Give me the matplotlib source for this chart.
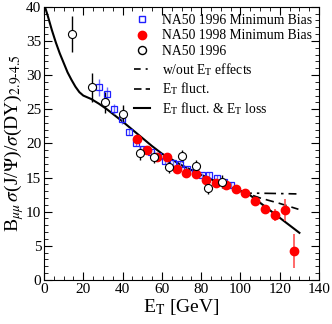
import numpy as np
import matplotlib
matplotlib.use('Agg')
import matplotlib.pyplot as plt
from matplotlib.ticker import MultipleLocator
from matplotlib.lines import Line2D

plt.rcParams['font.family'] = ['Liberation Serif', 'DejaVu Serif']
plt.rcParams['mathtext.fontset'] = 'stix'

# NA50 1996 minimum bias (open blue squares)
mb96_x = [28.2, 32.0, 35.8, 39.6, 43.2, 46.8, 50.6, 54.4, 58.2, 61.8,
          65.6, 69.4, 73.0, 76.8, 80.6, 84.2, 88.0, 91.8, 95.4]
mb96_y = [28.2, 27.2, 25.0, 23.6, 21.7, 20.0, 19.2, 18.8, 18.1, 17.4,
          17.1, 17.0, 16.3, 15.8, 15.3, 15.4, 14.9, 14.4, 13.9]
mb96_err = [1.3, 1.0, 0.7, 0.7, 0.5, 0.4, 0.4, 0.4, 0.4, 0.4,
            0.4, 0.4, 0.4, 0.4, 0.4, 0.4, 0.4, 0.4, 0.4]

# NA50 1998 minimum bias (filled red circles)
mb98_x = [47.5, 52.5, 57.5, 62.5, 67.5, 72.5, 77.5, 82.5, 87.5, 92.5,
          97.5, 102.5, 107.5, 112.5, 117.5, 122.5, 127.5]
mb98_y = [20.6, 19.0, 18.0, 18.0, 16.3, 15.6, 15.5, 14.6, 14.2, 13.9,
          13.3, 12.7, 11.6, 10.4, 9.5, 10.3, 4.3]
mb98_err = [0.4, 0.4, 0.4, 0.4, 0.4, 0.4, 0.4, 0.4, 0.4, 0.4,
            0.4, 0.4, 0.5, 0.6, 0.9, 1.6, 2.5]

# NA50 1996 (open black circles)
na96_x = [14.3, 24.3, 31.2, 40.2, 49.0, 56.2, 63.5, 70.1, 77.3, 83.3, 90.5]
na96_y = [36.0, 28.2, 26.0, 24.3, 18.6, 18.0, 16.6, 18.1, 16.7, 13.5, 14.4]
na96_err = [2.6, 2.1, 1.5, 1.3, 1.0, 0.9, 0.9, 0.9, 0.9, 0.9, 0.9]

# model curves
full_x = [0.5, 2, 4, 6, 8, 10, 12, 14, 16, 18, 20, 24, 28, 32, 36, 40, 45,
          50, 55, 60, 70, 80, 90, 100, 104, 110, 120, 130]
full_y = [40, 38.6, 36.6, 34.8, 33.2, 31.8, 30.4, 29.3, 28.3, 27.5, 27.0,
          26.5, 25.8, 25.0, 24.1, 23.2, 22.0, 20.8, 19.6, 18.5, 16.8, 15.4,
          14.1, 13.0, 12.6, 11.3, 9.1, 6.9]
fluct_x = [100, 104, 110, 120, 129.5]
fluct_y = [13.0, 12.6, 12.0, 11.2, 10.35]
noeff_x = [100, 104, 110, 120, 128.5]
noeff_y = [13.0, 12.7, 12.7, 12.65, 12.6]

dashdot = (0, (7, 3, 1.5, 3))
dashed = (0, (5, 3))

fig = plt.figure(figsize=(3.32, 3.24), dpi=100)
ax = fig.add_axes([0.1325, 0.136, 0.8285, 0.843])

ax.plot(noeff_x, noeff_y, color='black', lw=1.2, ls=dashdot)
ax.plot(fluct_x, fluct_y, color='black', lw=1.2, ls=dashed)
ax.plot(full_x, full_y, color='black', lw=1.5)

ax.errorbar(mb96_x, mb96_y, yerr=mb96_err, fmt='s', ms=5, mfc='none',
            mec='#1f1fff', mew=0.9, ecolor='#6f6fff', elinewidth=1, capsize=0)
ax.errorbar(mb98_x, mb98_y, yerr=mb98_err, fmt='o', ms=6, color='red',
            mec='red', ecolor='#ff5050', elinewidth=1.2, capsize=0)
ax.errorbar(na96_x, na96_y, yerr=na96_err, fmt='o', ms=5.8, mfc='white',
            mec='black', mew=0.8, ecolor='black', elinewidth=1, capsize=0)

ax.set_xlim(0, 140)
ax.set_ylim(0, 40)
ax.xaxis.set_major_locator(MultipleLocator(20))
ax.xaxis.set_minor_locator(MultipleLocator(5))
ax.yaxis.set_major_locator(MultipleLocator(5))
ax.yaxis.set_minor_locator(MultipleLocator(1))
ax.tick_params(which='both', direction='in', top=True, right=True,
               labelsize=11, pad=2)
ax.tick_params(which='major', length=6)
ax.tick_params(which='minor', length=3)

ax.set_xlabel(r'E$_\mathrm{T}$ [GeV]', fontsize=14, labelpad=1)
ax.set_ylabel(r'B$_{\mu\mu}\,\sigma$(J/$\Psi$)/$\sigma$(DY)$_{2.9\text{-}4.5}$',
              fontsize=14, labelpad=0)

handles = [
    Line2D([], [], ls='none', marker='s', ms=5, mfc='none', mec='#1f1fff'),
    Line2D([], [], ls='none', marker='o', ms=6, color='red'),
    Line2D([], [], ls='none', marker='o', ms=5.8, mfc='white', mec='black'),
    Line2D([], [], color='black', lw=1.2, ls=(0, (4, 3, 1.2, 3))),
    Line2D([], [], color='black', lw=1.2, ls=(0, (4.5, 2.5))),
    Line2D([], [], color='black', lw=1.5),
]
labels = ['NA50 1996 Minimum Bias', 'NA50 1998 Minimum Bias', 'NA50 1996',
          r'w/out E$_\mathrm{T}$ effects', r'E$_\mathrm{T}$ fluct.',
          r'E$_\mathrm{T}$ fluct. & E$_\mathrm{T}$ loss']
ax.legend(handles, labels, loc='upper right', frameon=False, fontsize=9.8,
          handlelength=1.2, handletextpad=0.9, labelspacing=0.2,
          borderaxespad=0.2, borderpad=0.3)

fig.savefig('out.png', dpi=100)
